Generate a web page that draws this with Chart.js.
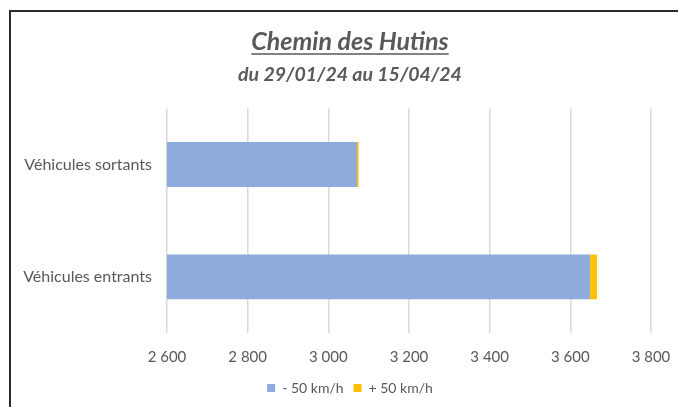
<!DOCTYPE html>
<html>
<head>
<meta charset="utf-8">
<script src="https://cdn.jsdelivr.net/npm/chart.js@4.4.1/dist/chart.umd.min.js"></script>
<style>
  html, body { margin: 0; padding: 0; background: #fff; overflow: hidden; width: 678px; height: 407px; }
  #frame { position: absolute; left: 9px; top: 10px; width: 800px; height: 500px; border: 2px solid #2b2b2b; }
  #wrap { position: absolute; left: 0; top: 0; width: 700px; height: 407px; }
</style>
</head>
<body>
<div id="frame"></div>
<div id="wrap"><canvas id="chart" width="700" height="407"></canvas></div>
<script>
var categories = ['Véhicules sortants', 'Véhicules entrants'];
var moins50 = [3071, 3649];
var plus50 = [4, 17];
var xTicks = [2600, 2800, 3000, 3200, 3400, 3600, 3800];

var gris = '#595959';

// souligne le titre
var underline = {
  id: 'underline',
  afterDraw: function (chart) {
    var tb = chart.titleBlock;
    if (!tb) return;
    var ctx = chart.ctx;
    var f = tb.options.font;
    ctx.save();
    ctx.font = 'italic bold ' + f.size + 'px Lato';
    var w = ctx.measureText(tb.options.text).width;
    var cx = tb.left + tb.width / 2;
    var y = tb.top + tb.options.padding.top + f.size * 1.2 / 2 + 12;
    ctx.strokeStyle = gris;
    ctx.lineWidth = 1.5;
    ctx.beginPath();
    ctx.moveTo(cx - w / 2, y);
    ctx.lineTo(cx + w / 2, y);
    ctx.stroke();
    ctx.restore();
  }
};

new Chart(document.getElementById('chart'), {
  type: 'bar',
  data: {
    labels: categories,
    datasets: [{
      label: '- 50 km/h',
      data: moins50,
      backgroundColor: '#8faadc',
      categoryPercentage: 0.4,
      barPercentage: 1
    }, {
      label: '+ 50 km/h',
      data: plus50,
      backgroundColor: '#ffc000',
      categoryPercentage: 0.4,
      barPercentage: 1
    }]
  },
  options: {
    indexAxis: 'y',
    responsive: false,
    animation: false,
    layout: { padding: { left: 10, right: 10, top: 20, bottom: 2 } },
    plugins: {
      title: {
        display: true,
        text: 'Chemin des Hutins',
        color: gris,
        font: { family: 'Lato', size: 25, style: 'italic', weight: 'bold' },
        padding: { top: 7, bottom: 6 }
      },
      subtitle: {
        display: true,
        text: 'du 29/01/24 au 15/04/24',
        color: gris,
        font: { family: 'Lato', size: 19.5, style: 'italic', weight: 'bold' },
        padding: { top: 0, bottom: 22 }
      },
      legend: {
        position: 'bottom',
        labels: {
          color: gris,
          font: { family: 'Lato', size: 14 },
          boxWidth: 8,
          boxHeight: 8,
          padding: 10
        }
      },
      tooltip: { enabled: false }
    },
    scales: {
      x: {
        stacked: true,
        min: 2600,
        max: 3800,
        afterBuildTicks: function (scale) {
          scale.ticks = xTicks.map(function (v) { return { value: v }; });
        },
        afterFit: function (scale) {
          scale.height = 38;
          scale.paddingLeft = 0;
          scale.paddingRight = 0;
        },
        ticks: {
          color: gris,
          font: { family: 'Lato', size: 15 },
          padding: 15,
          callback: function (v) {
            return String(v).replace(/\B(?=(\d{3})+(?!\d))/g, ' ');
          }
        },
        grid: { color: '#d9d9d9', lineWidth: 1.5, drawTicks: false },
        border: { display: false }
      },
      y: {
        stacked: true,
        afterFit: function (scale) { scale.width = 157; },
        ticks: {
          color: gris,
          font: { family: 'Lato', size: 16 },
          padding: 15
        },
        grid: { display: false, drawTicks: false },
        border: { display: false }
      },
      // axe vide pour la marge de droite
      marge: {
        type: 'linear',
        position: 'right',
        afterFit: function (scale) { scale.width = 39; },
        ticks: { display: false },
        grid: { display: false, drawTicks: false },
        border: { display: false }
      }
    }
  },
  plugins: [underline]
});
</script>
</body>
</html>
